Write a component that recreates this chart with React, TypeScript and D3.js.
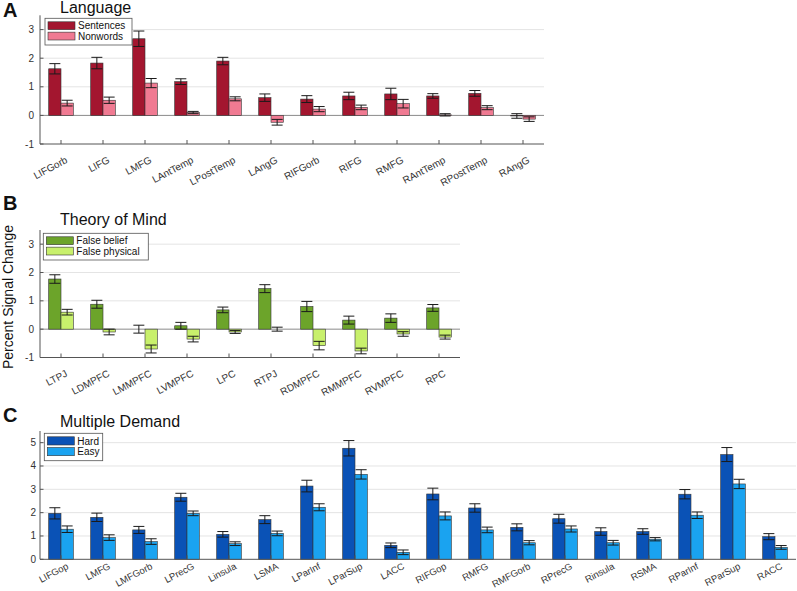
import React from "react";
import * as d3 from "d3";

// ---------- Data ----------
const langRegions = ["LIFGorb", "LIFG", "LMFG", "LAntTemp", "LPostTemp", "LAngG", "RIFGorb", "RIFG", "RMFG", "RAntTemp", "RPostTemp", "RAngG"];
const langSentences = [1.63, 1.83, 2.68, 1.18, 1.9, 0.62, 0.57, 0.68, 0.75, 0.68, 0.77, -0.02];
const langSentencesErr = [0.18, 0.2, 0.27, 0.1, 0.13, 0.13, 0.12, 0.13, 0.2, 0.08, 0.1, 0.08];
const langNonwords = [0.43, 0.53, 1.13, 0.1, 0.58, -0.24, 0.22, 0.28, 0.41, 0.02, 0.27, -0.13];
const langNonwordsErr = [0.1, 0.11, 0.16, 0.04, 0.07, 0.1, 0.09, 0.08, 0.15, 0.04, 0.07, 0.08];

const tomRegions = ["LTPJ", "LDMPFC", "LMMPFC", "LVMPFC", "LPC", "RTPJ", "RDMPFC", "RMMPFC", "RVMPFC", "RPC"];
const tomBelief = [1.77, 0.88, 0.0, 0.12, 0.68, 1.43, 0.8, 0.32, 0.39, 0.75];
const tomBeliefErr = [0.15, 0.14, 0.14, 0.12, 0.1, 0.14, 0.18, 0.14, 0.15, 0.12];
const tomPhysical = [0.6, -0.1, -0.7, -0.35, -0.1, 0.0, -0.58, -0.77, -0.17, -0.28];
const tomPhysicalErr = [0.1, 0.1, 0.14, 0.1, 0.05, 0.07, 0.15, 0.1, 0.08, 0.07];

const mdRegions = ["LIFGop", "LMFG", "LMFGorb", "LPrecG", "Linsula", "LSMA", "LParInf", "LParSup", "LACC", "RIFGop", "RMFG", "RMFGorb", "RPrecG", "Rinsula", "RSMA", "RParInf", "RParSup", "RACC"];
const mdHard = [1.97, 1.8, 1.26, 2.66, 1.07, 1.7, 3.14, 4.76, 0.6, 2.8, 2.2, 1.37, 1.74, 1.19, 1.19, 2.79, 4.49, 0.97];
const mdHardErr = [0.24, 0.18, 0.15, 0.17, 0.12, 0.17, 0.25, 0.33, 0.1, 0.25, 0.18, 0.15, 0.19, 0.16, 0.12, 0.2, 0.3, 0.13];
const mdEasy = [1.29, 0.93, 0.76, 1.97, 0.67, 1.11, 2.23, 3.64, 0.3, 1.86, 1.26, 0.71, 1.3, 0.71, 0.86, 1.89, 3.23, 0.51];
const mdEasyErr = [0.14, 0.12, 0.12, 0.1, 0.08, 0.1, 0.15, 0.2, 0.1, 0.17, 0.12, 0.09, 0.13, 0.1, 0.07, 0.14, 0.2, 0.08];

const ticksAB = [-1, 0, 1, 2, 3];
const ticksC = [0, 1, 2, 3, 4, 5];

const FONT = "'Liberation Sans', Arial, Helvetica, sans-serif";
const BAR_W = 12.3;
const BAND = 42;

type PanelProps = {
  letter: string;
  title: string;
  letterY: number;
  titleY: number;
  top: number;
  bottom: number;
  domain: [number, number];
  ticks: number[];
  categories: string[];
  series: { label: string; values: number[]; errors: number[]; color: string }[];
  legend: { x: number; y: number; w: number; h: number };
  tickLabelX: number;
  labelDx: number;
  labelDy: number;
  labelSize: number;
};

function Panel(p: PanelProps) {
  const left = 40;
  const n = p.categories.length;
  const x = d3.scaleLinear().domain([0.5, n + 0.5]).range([left, left + n * BAND]);
  const y = d3.scaleLinear().domain(p.domain).range([p.bottom, p.top]);
  const xEnd = Math.min(x(n + 0.5), 797);
  const y0 = y(0);
  const capW = 11;
  return (
    <g fontFamily={FONT}>
      <text x={3} y={p.letterY} fontSize={20} fontWeight="bold" fill="#111">{p.letter}</text>
      <text x={60} y={p.titleY} fontSize={16} fill="#111">{p.title}</text>
      {/* grid */}
      {p.ticks.filter((t) => t !== p.domain[0] && t !== 0).map((t) => (
        <line key={"g" + t} x1={left} x2={xEnd} y1={y(t)} y2={y(t)} stroke="#e4e4e4" strokeWidth={1} />
      ))}
      {p.domain[0] < 0 && (
        <line x1={left} x2={xEnd} y1={y0} y2={y0} stroke="#8a8a8a" strokeWidth={1} />
      )}
      {/* bars */}
      {p.categories.map((c, i) => {
        const cx = x(i + 1);
        return (
          <g key={c}>
            {p.series.map((s, k) => {
              const v = s.values[i];
              const bx = cx + (k === 0 ? -BAR_W : 0);
              return (
                <rect key={k} x={bx} width={BAR_W} y={Math.min(y(v), y0)} height={Math.abs(y(v) - y0)}
                  fill={s.color} stroke="#333" strokeWidth={0.6} />
              );
            })}
            {p.series.map((s, k) => {
              const v = s.values[i];
              const e = s.errors[i];
              const mx = cx + (k === 0 ? -BAR_W / 2 : BAR_W / 2);
              return (
                <g key={"e" + k} stroke="#1a1a1a" strokeWidth={1}>
                  <line x1={mx} x2={mx} y1={y(v - e)} y2={y(v + e)} />
                  <line x1={mx - capW / 2} x2={mx + capW / 2} y1={y(v + e)} y2={y(v + e)} />
                  <line x1={mx - capW / 2} x2={mx + capW / 2} y1={y(v - e)} y2={y(v - e)} />
                </g>
              );
            })}
          </g>
        );
      })}
      {/* axes */}
      <line x1={left} x2={left} y1={p.top} y2={p.bottom} stroke="#555" strokeWidth={1} />
      <line x1={left} x2={xEnd} y1={p.bottom} y2={p.bottom} stroke="#555" strokeWidth={1} />
      {p.ticks.map((t) => (
        <g key={"t" + t}>
          <line x1={left} x2={left + 3.5} y1={y(t)} y2={y(t)} stroke="#555" />
          <text x={p.tickLabelX} y={y(t)} dy="0.35em" textAnchor="end" fontSize={10} fill="#333">{t}</text>
        </g>
      ))}
      {p.categories.map((c, i) => (
        <g key={"x" + c}>
          <line x1={x(i + 1)} x2={x(i + 1)} y1={p.bottom} y2={p.bottom - 4} stroke="#555" />
          <text transform={`translate(${x(i + 1) + p.labelDx},${p.bottom + p.labelDy}) rotate(-28)`} textAnchor="end"
            dy="0.7em" fontSize={p.labelSize} fill="#333">{c}</text>
        </g>
      ))}
      {/* legend */}
      <rect x={p.legend.x} y={p.legend.y} width={p.legend.w} height={p.legend.h} fill="#fff" stroke="#555" strokeWidth={0.8} />
      {p.series.map((s, k) => {
        const rowH = (p.legend.h - 6) / 2;
        const sy = p.legend.y + 3 + k * rowH;
        return (
          <g key={"l" + k}>
            <rect x={p.legend.x + 3} y={sy + 0.5} width={27} height={rowH - 2.5} fill={s.color} stroke="#333" strokeWidth={0.6} />
            <text x={p.legend.x + 33} y={sy + rowH / 2 - 0.5} dy="0.35em" fontSize={10} fill="#111">{s.label}</text>
          </g>
        );
      })}
    </g>
  );
}

export default function App() {
  return (
    <svg width={797} height={591} style={{ position: "absolute", left: 0, top: 0, background: "#fff" }}>
      <Panel letter="A" title="Language" letterY={17} titleY={13} top={15.3} bottom={144}
        domain={[-1, 3.5]} ticks={ticksAB} categories={langRegions}
        series={[
          { label: "Sentences", values: langSentences, errors: langSentencesErr, color: "#a3162f" },
          { label: "Nonwords", values: langNonwords, errors: langNonwordsErr, color: "#f07a92" },
        ]}
        legend={{ x: 45, y: 18.3, w: 87, h: 26.7 }} tickLabelX={34} labelDx={4} labelDy={12} labelSize={10} />
      <Panel letter="B" title="Theory of Mind" letterY={210} titleY={225} top={230} bottom={357.5}
        domain={[-1, 3.5]} ticks={ticksAB} categories={tomRegions}
        series={[
          { label: "False belief", values: tomBelief, errors: tomBeliefErr, color: "#6ca42a" },
          { label: "False physical", values: tomPhysical, errors: tomPhysicalErr, color: "#c8f06c" },
        ]}
        legend={{ x: 43.3, y: 233.3, w: 105, h: 26.7 }} tickLabelX={34} labelDx={4} labelDy={12} labelSize={10} />
      <Panel letter="C" title="Multiple Demand" letterY={422} titleY={427} top={431} bottom={559.3}
        domain={[0, 5.5]} ticks={ticksC} categories={mdRegions}
        series={[
          { label: "Hard", values: mdHard, errors: mdHardErr, color: "#0a52b6" },
          { label: "Easy", values: mdEasy, errors: mdEasyErr, color: "#1aa3f0" },
        ]}
        legend={{ x: 44.3, y: 433.3, w: 58.4, h: 27.4 }} tickLabelX={36} labelDx={5} labelDy={3} labelSize={9.5} />
      <text transform="translate(13,297) rotate(-90)" textAnchor="middle" fontSize={14} fontFamily={FONT} fill="#111">
        Percent Signal Change
      </text>
    </svg>
  );
}
